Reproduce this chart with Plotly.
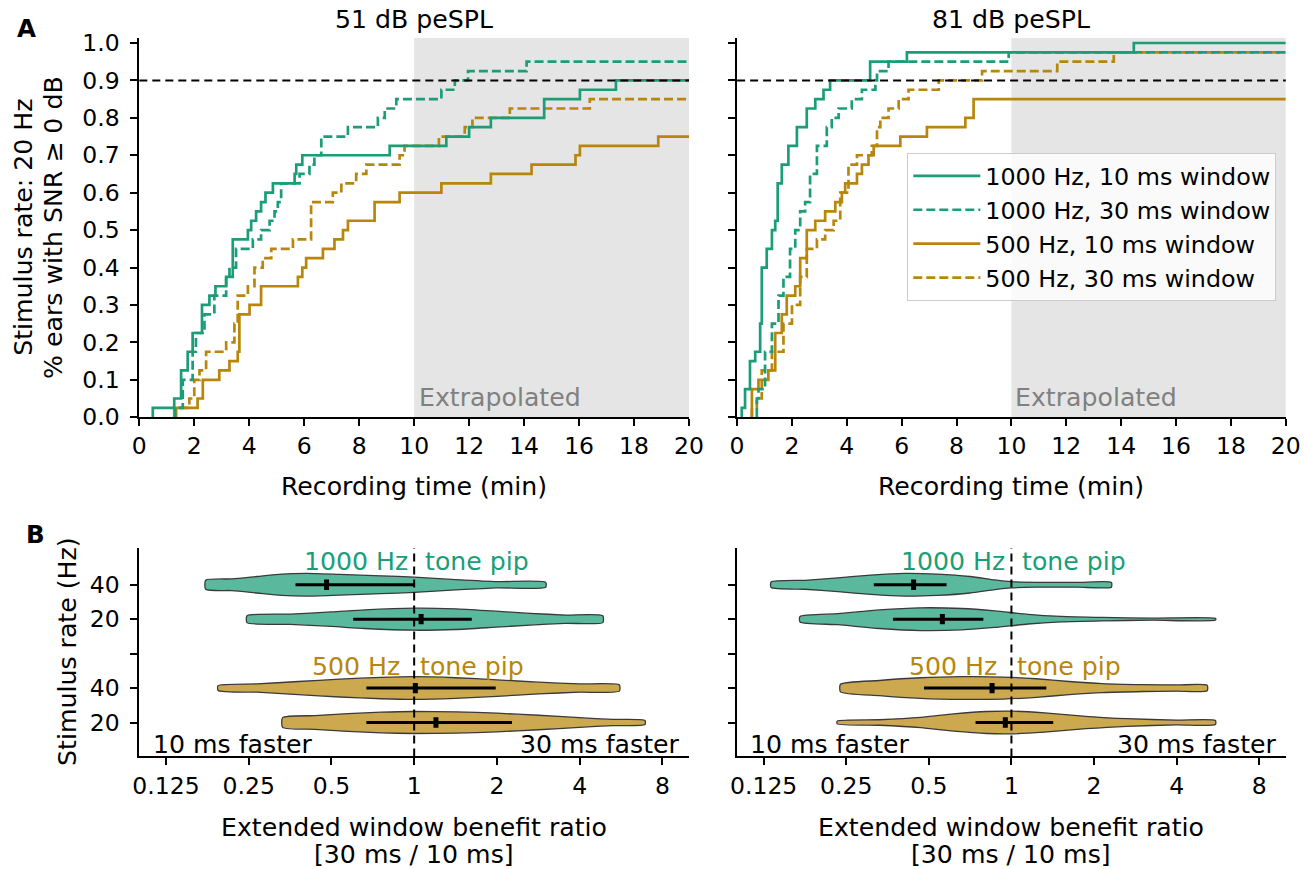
import numpy as np
import plotly.graph_objects as go

# Target picture size and the observed page->picture mapping of the renderer
PAGE_W, PAGE_H = 1307, 869
SX, SY = 0.982, 0.976
PAD = 8
W = round(PAGE_W / SX) - 2 * PAD
H = round(PAGE_H / SY) - 2 * PAD
FS = 1 / ((SX + SY) / 2)
FONT = "DejaVu Sans"
GREEN = "#1b9e77"
GOLD = "#b8860b"
GREEN_FILL = "rgba(27,158,119,0.72)"
GOLD_FILL = "rgba(184,134,11,0.72)"

# ---------------- Panel A data (step curves: time of each step, level after the step)
g10_51_t = [0.49, 1.27, 1.52, 1.76, 1.94, 2.28, 2.55, 2.77, 3.16, 3.40, 3.95, 4.07, 4.25, 4.43, 4.59, 4.86, 5.65, 5.71, 5.93, 9.11, 11.17, 12.0, 12.79, 14.73, 16.03, 17.34]
g10_51_v = [0.025, 0.05, 0.125, 0.175, 0.225, 0.30, 0.325, 0.35, 0.375, 0.475, 0.50, 0.525, 0.55, 0.575, 0.60, 0.625, 0.65, 0.675, 0.70, 0.725, 0.75, 0.775, 0.80, 0.85, 0.875, 0.90]
g30_51_t = [1.30, 1.58, 1.94, 2.06, 2.37, 2.73, 3.16, 3.28, 3.52, 4.13, 4.43, 4.74, 4.92, 5.04, 5.16, 5.83, 6.19, 6.37, 6.62, 7.59, 8.68, 8.93, 9.35, 10.99, 11.48, 11.96, 14.09]
g30_51_v = [0.025, 0.10, 0.175, 0.225, 0.275, 0.325, 0.375, 0.40, 0.45, 0.475, 0.50, 0.525, 0.55, 0.575, 0.625, 0.65, 0.675, 0.70, 0.75, 0.775, 0.80, 0.825, 0.85, 0.875, 0.90, 0.925, 0.95]
o10_51_t = [1.27, 2.12, 2.31, 2.91, 3.28, 3.58, 3.64, 4.01, 4.43, 5.77, 5.93, 6.07, 6.68, 7.10, 7.41, 7.59, 8.56, 9.47, 10.99, 12.79, 14.27, 15.87, 16.03, 18.88]
o10_51_v = [0.025, 0.05, 0.10, 0.125, 0.15, 0.175, 0.275, 0.30, 0.35, 0.375, 0.40, 0.425, 0.45, 0.475, 0.50, 0.525, 0.575, 0.60, 0.625, 0.65, 0.675, 0.70, 0.725, 0.75]
o30_51_t = [1.34, 1.82, 2.00, 2.19, 2.43, 3.16, 3.46, 3.58, 3.95, 4.19, 4.49, 4.80, 5.59, 6.25, 7.04, 7.35, 7.89, 8.26, 9.47, 9.65, 10.90, 11.84, 12.12, 13.48, 16.39]
o30_51_v = [0.025, 0.05, 0.10, 0.125, 0.175, 0.20, 0.25, 0.325, 0.35, 0.40, 0.425, 0.45, 0.475, 0.575, 0.60, 0.625, 0.65, 0.675, 0.70, 0.725, 0.75, 0.775, 0.80, 0.825, 0.85]

g10_81_t = [0.17, 0.29, 0.47, 0.66, 0.84, 0.90, 1.08, 1.27, 1.39, 1.48, 1.63, 1.87, 2.18, 2.54, 2.85, 3.15, 3.39, 4.85, 6.19, 14.46]
g10_81_v = [0.025, 0.075, 0.15, 0.175, 0.25, 0.40, 0.45, 0.50, 0.525, 0.625, 0.675, 0.725, 0.775, 0.825, 0.85, 0.875, 0.90, 0.95, 0.975, 1.0]
g30_81_t = [0.72, 0.78, 1.02, 1.27, 1.51, 1.69, 1.93, 2.12, 2.30, 2.48, 2.66, 2.91, 3.27, 3.45, 3.70, 4.18, 4.55, 5.04, 5.10, 5.52, 9.90]
g30_81_v = [0.05, 0.075, 0.175, 0.25, 0.325, 0.375, 0.45, 0.50, 0.55, 0.575, 0.65, 0.725, 0.775, 0.80, 0.825, 0.85, 0.875, 0.90, 0.925, 0.95, 0.975]
o10_81_t = [0.54, 0.78, 1.14, 1.39, 1.63, 1.81, 2.12, 2.30, 2.54, 2.85, 3.21, 3.58, 3.82, 3.94, 4.37, 4.55, 4.79, 4.98, 5.95, 6.92, 8.32, 8.62]
o10_81_v = [0.075, 0.10, 0.125, 0.225, 0.275, 0.325, 0.35, 0.425, 0.50, 0.525, 0.55, 0.575, 0.60, 0.625, 0.65, 0.675, 0.70, 0.725, 0.75, 0.775, 0.80, 0.85]
o30_81_t = [0.54, 0.72, 0.90, 1.27, 1.69, 2.00, 2.30, 2.54, 2.91, 3.21, 3.52, 3.76, 4.06, 4.37, 4.91, 5.10, 5.22, 5.52, 5.89, 6.25, 7.35, 8.93, 11.67, 13.73]
o30_81_v = [0.025, 0.05, 0.125, 0.175, 0.25, 0.30, 0.375, 0.45, 0.475, 0.50, 0.525, 0.60, 0.675, 0.70, 0.725, 0.775, 0.80, 0.825, 0.85, 0.875, 0.90, 0.925, 0.95, 0.975]

series_names = ["1000 Hz, 10 ms window", "1000 Hz, 30 ms window",
                "500 Hz, 10 ms window", "500 Hz, 30 ms window"]
x_ticks_A = list(range(0, 21, 2))
y_ticks_A = [round(0.1 * i, 1) for i in range(11)]
criterion = 0.9
extrap_start, t_max = 10, 20

# ---------------- Panel B data (violin outlines: log2 ratio positions and half-widths)
row_pos = [4, 3, 1, 0]            # 1000/40, 1000/20, 500/40, 500/20
row_ticks = [0, 1, 2, 3, 4]
row_labels = ["20", "40", "", "20", "40"]
ratio_ticks = [0.125, 0.25, 0.5, 1, 2, 4, 8]
ratio_labels = ["0.125", "0.25", "0.5", "1", "2", "4", "8"]

v51_l2 = [
    [-2.52, -2.2, -1.9, -1.6, -1.3, -0.9, -0.4, 0.0, 0.5, 1.0, 1.59],
    [-2.02, -1.5, -1.0, -0.6, 0.0, 0.5, 0.94, 1.4, 1.83, 2.28],
    [-2.37, -1.9, -1.4, -0.9, -0.4, 0.0, 0.5, 1.0, 1.5, 2.0, 2.48],
    [-1.59, -1.2, -0.8, -0.4, 0.0, 0.5, 1.0, 1.5, 2.0, 2.4, 2.79],
]
v51_w = [
    [0.13, 0.17, 0.24, 0.31, 0.33, 0.30, 0.26, 0.22, 0.15, 0.09, 0.07],
    [0.10, 0.15, 0.21, 0.27, 0.32, 0.30, 0.24, 0.17, 0.12, 0.10],
    [0.07, 0.12, 0.19, 0.26, 0.31, 0.33, 0.30, 0.24, 0.17, 0.12, 0.09],
    [0.14, 0.20, 0.26, 0.30, 0.32, 0.31, 0.27, 0.21, 0.14, 0.09, 0.06],
]
v81_l2 = [
    [-2.91, -2.5, -2.1, -1.7, -1.3, -0.9, -0.5, -0.2, 0.0, 0.3, 0.8, 1.21],
    [-2.56, -2.1, -1.6, -1.1, -0.6, -0.2, 0.2, 0.6, 1.1, 1.7, 2.47],
    [-2.07, -1.6, -1.1, -0.6, -0.1, 0.3, 0.7, 1.1, 1.6, 2.0, 2.37],
    [-2.11, -1.6, -1.1, -0.7, -0.3, 0.0, 0.4, 0.9, 1.4, 2.0, 2.47],
]
v81_w = [
    [0.08, 0.13, 0.20, 0.28, 0.33, 0.31, 0.24, 0.14, 0.09, 0.07, 0.07, 0.07],
    [0.08, 0.16, 0.27, 0.33, 0.31, 0.24, 0.14, 0.08, 0.05, 0.03, 0.025],
    [0.11, 0.22, 0.30, 0.33, 0.32, 0.27, 0.19, 0.13, 0.10, 0.09, 0.08],
    [0.04, 0.08, 0.15, 0.25, 0.32, 0.33, 0.28, 0.18, 0.11, 0.07, 0.06],
]
med51 = [0.48, 1.06, 1.01, 1.20]
q1_51 = [0.37, 0.60, 0.67, 0.67]
q3_51 = [1.00, 1.62, 1.98, 2.27]
med81 = [0.44, 0.56, 0.85, 0.95]
q1_81 = [0.315, 0.37, 0.48, 0.74]
q3_81 = [0.58, 0.79, 1.34, 1.42]


def px(x):
    return (x / SX - PAD) / W


def py(y):
    return 1 - (y / SY - PAD) / H


def fs(s):
    return round(s * FS, 1)


fig = go.Figure()

DASH = "9px,4px"


def add_steps(t, v, color, dash, xa, ya, name, show):
    xs = [t[0]] + list(t) + [t_max]
    ys = [0.0] + list(v) + [v[-1]]
    fig.add_trace(go.Scatter(
        x=xs, y=ys, mode="lines", line=dict(color=color, width=2.7, dash=dash, shape="hv"),
        name=name, showlegend=show, xaxis=xa, yaxis=ya, hoverinfo="skip"))


panelA = [
    ("x", "y", [(o30_51_t, o30_51_v), (o10_51_t, o10_51_v), (g30_51_t, g30_51_v), (g10_51_t, g10_51_v)], False),
    ("x2", "y2", [(o30_81_t, o30_81_v), (o10_81_t, o10_81_v), (g30_81_t, g30_81_v), (g10_81_t, g10_81_v)], True),
]
styles = [(GOLD, DASH, series_names[3]), (GOLD, "solid", series_names[2]),
          (GREEN, DASH, series_names[1]), (GREEN, "solid", series_names[0])]
for xa, ya, sers, show in panelA:
    for (t, v), (c, d, n) in zip(sers, styles):
        add_steps(t, v, c, d, xa, ya, n, show)


# ---- Panel B violins
def add_violins(l2s, ws, meds, q1s, q3s, xa, ya):
    for i, (l2, w) in enumerate(zip(l2s, ws)):
        pos = row_pos[i]
        fillc = GREEN_FILL if pos >= 3 else GOLD_FILL
        r = list(2.0 ** np.array(l2))
        up = [pos + a for a in w]
        lo = [pos - a for a in w]
        xs = r + r[::-1] + [r[0]]
        ys = up + lo[::-1] + [up[0]]
        fig.add_trace(go.Scatter(
            x=xs, y=ys, mode="lines", fill="toself", fillcolor=fillc,
            line=dict(color="#3a3a3a", width=1.3, shape="spline", smoothing=0.6),
            showlegend=False, xaxis=xa, yaxis=ya, hoverinfo="skip"))
        fig.add_trace(go.Scatter(
            x=[q1s[i], q3s[i]], y=[pos, pos], mode="lines",
            line=dict(color="black", width=3), showlegend=False,
            xaxis=xa, yaxis=ya, hoverinfo="skip"))
        fig.add_trace(go.Scatter(
            x=[meds[i], meds[i]], y=[pos - 0.15, pos + 0.15], mode="lines",
            line=dict(color="black", width=5), showlegend=False,
            xaxis=xa, yaxis=ya, hoverinfo="skip"))


add_violins(v51_l2, v51_w, med51, q1_51, q3_51, "x3", "y3")
add_violins(v81_l2, v81_w, med81, q1_81, q3_81, "x4", "y4")

xA = [px(140), px(689)]
xB = [px(737), px(1285)]
yTop = [py(417), py(37)]
yBot = [py(757), py(548)]

axis_common = dict(showline=True, linecolor="black", linewidth=1.8, ticks="outside",
                   ticklen=7, tickwidth=1.8, tickcolor="black", showgrid=False,
                   zeroline=False, tickfont=dict(size=fs(23), color="black", family=FONT))

fig.update_layout(
    width=W, height=H, margin=dict(l=0, r=0, t=0, b=0),
    paper_bgcolor="white", plot_bgcolor="white",
    font=dict(family=FONT, color="black"),
    xaxis=dict(domain=xA, anchor="y", range=[0, t_max], tickvals=x_ticks_A, **axis_common),
    yaxis=dict(domain=yTop, anchor="x", range=[0, 1.013], tickvals=y_ticks_A,
               ticktext=[f"{v:.1f}" for v in y_ticks_A], ticklabelstandoff=6, **axis_common),
    xaxis2=dict(domain=xB, anchor="y2", range=[0, t_max], tickvals=x_ticks_A, **axis_common),
    yaxis2=dict(domain=yTop, anchor="x2", range=[0, 1.013], tickvals=y_ticks_A,
                showticklabels=False, **axis_common),
    xaxis3=dict(domain=xA, anchor="y3", type="log", range=[-1, 1], tickvals=ratio_ticks,
                ticktext=ratio_labels, **axis_common),
    yaxis3=dict(domain=yBot, anchor="x3", range=[-0.985, 5.07], tickvals=row_ticks,
                ticktext=row_labels, ticklabelstandoff=6, **axis_common),
    xaxis4=dict(domain=xB, anchor="y4", type="log", range=[-1, 1], tickvals=ratio_ticks,
                ticktext=ratio_labels, **axis_common),
    yaxis4=dict(domain=yBot, anchor="x4", range=[-0.985, 5.07], tickvals=row_ticks,
                showticklabels=False, **axis_common),
    legend=dict(x=px(907), y=py(152), xanchor="left", yanchor="top",
                bgcolor="rgba(255,255,255,0.8)", bordercolor="#cccccc", borderwidth=1,
                font=dict(size=fs(23.3), family=FONT, color="black"), itemwidth=67,
                tracegroupgap=0, traceorder="reversed"),
)

shapes = []
for xa, ya in [("x", "y"), ("x2", "y2")]:
    shapes.append(dict(type="rect", xref=xa, yref=f"{ya} domain", x0=extrap_start, x1=t_max,
                       y0=0, y1=1, fillcolor="#e5e5e5", line=dict(width=0), layer="below"))
    shapes.append(dict(type="line", xref=f"{xa} domain", yref=ya, x0=0, x1=1,
                       y0=criterion, y1=criterion, line=dict(color="black", width=2, dash="8px,5px")))
for xa, ya in [("x3", "y3"), ("x4", "y4")]:
    shapes.append(dict(type="line", xref=xa, yref=f"{ya} domain", x0=1, x1=1, y0=0, y1=1,
                       line=dict(color="black", width=2, dash="8px,5px"), layer="above"))
fig.update_layout(shapes=shapes)

ann = []
TXT = 24.7


def A(text, x, y, size=TXT, color="black", xanchor="center", yanchor="middle", **kw):
    ann.append(dict(text=text, x=x, y=y, xref=kw.pop("xref", "paper"), yref=kw.pop("yref", "paper"),
                    showarrow=False, xanchor=xanchor, yanchor=yanchor,
                    font=dict(size=fs(size), color=color, family=FONT), **kw))


A("<b>A</b>", px(27), py(27), size=24)
A("<b>B</b>", px(36), py(535), size=24)
A("51 dB peSPL", px(414.5), py(18))
A("81 dB peSPL", px(1011), py(18))
A("Recording time (min)", px(414.5), py(486))
A("Recording time (min)", px(1011), py(486))
A("Stimulus rate: 20 Hz", px(25), py(227), textangle=-90)
A("% ears with SNR ≥ 0 dB", px(54), py(227), textangle=-90)
A("Stimulus rate (Hz)", px(68), py(652), textangle=-90)
for cx in (414.5, 1011):
    A("Extended window benefit ratio", px(cx), py(828))
    A("[30 ms / 10 ms]", px(cx), py(855))
for xl in (417, 1013):
    A("Extrapolated", px(xl), py(397), color="#808080", xanchor="left")
for (xl, xr) in ((152, 682), (748, 1278)):
    A("10 ms faster", px(xl), py(745), xanchor="left")
    A("30 ms faster", px(xr), py(745), xanchor="right")
for xa, ya in [("x3", "y3"), ("x4", "y4")]:
    A("1000 Hz", 0, 4.68, color=GREEN, xanchor="right", xref=xa, yref=ya, xshift=-4)
    A("tone pip", 0, 4.68, color=GREEN, xanchor="left", xref=xa, yref=ya, xshift=9)
    A("500 Hz", 0, 1.63, color=GOLD, xanchor="right", xref=xa, yref=ya, xshift=-12)
    A("tone pip", 0, 1.63, color=GOLD, xanchor="left", xref=xa, yref=ya, xshift=4)
fig.update_layout(annotations=ann)

fig.write_html("out.html")
